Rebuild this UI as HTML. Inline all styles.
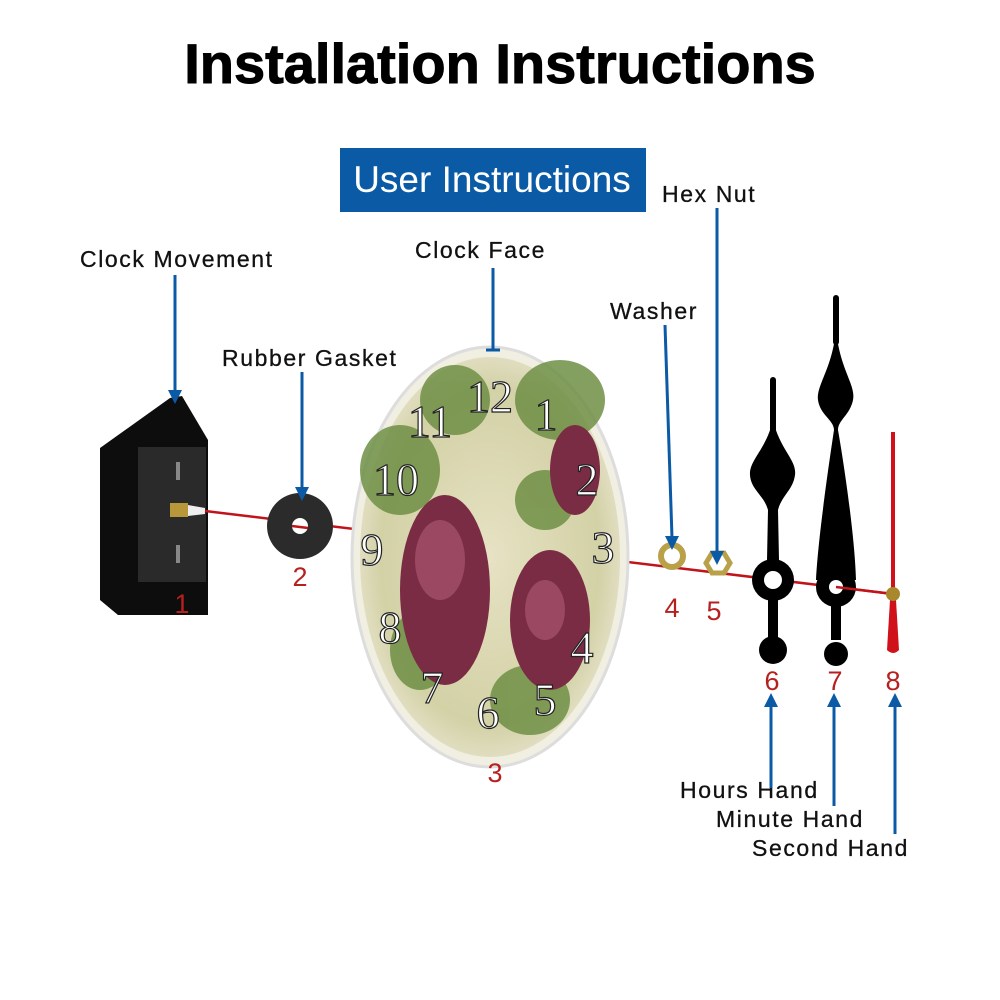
<!DOCTYPE html>
<html><head><style>
body{margin:0;background:#fff;}
svg{display:block}
text{font-family:"Liberation Sans",sans-serif;}
text.n{font-family:"Liberation Serif",serif;}
</style></head><body>
<svg width="1000" height="1000" viewBox="0 0 1000 1000">
<defs>
<radialGradient id="face" cx="50%" cy="50%" r="60%">
<stop offset="0" stop-color="#e6e2c4"/><stop offset="0.7" stop-color="#d3d1a6"/><stop offset="1" stop-color="#f0ede0"/>
</radialGradient>
</defs>
<text x="500" y="83" text-anchor="middle" font-size="56" font-weight="bold" fill="#000" stroke="#000" stroke-width="1">Installation Instructions</text>
<rect x="340" y="148" width="306" height="64" fill="#0b5aa6"/>
<text x="492" y="192" text-anchor="middle" font-size="37" fill="#fff">User Instructions</text>

<g font-size="23" fill="#111" letter-spacing="1.6" stroke="#111" stroke-width="0.3">
<text x="80" y="267">Clock Movement</text>
<text x="222" y="366">Rubber Gasket</text>
<text x="415" y="258">Clock Face</text>
<text x="610" y="319">Washer</text>
<text x="662" y="202">Hex Nut</text>
<text x="680" y="798">Hours Hand</text>
<text x="716" y="827">Minute Hand</text>
<text x="752" y="856">Second Hand</text>
</g>

<!-- clock movement -->
<polygon points="100,448 170,398 182,396 208,440 208,615 118,615 100,600" fill="#0d0d0d"/>
<rect x="138" y="447" width="68" height="135" fill="#2a2a2a"/>
<rect x="176" y="462" width="4" height="18" fill="#888"/>
<rect x="176" y="545" width="4" height="18" fill="#888"/>
<rect x="170" y="503" width="18" height="14" fill="#b8963a"/>
<polygon points="188,505 205,508 205,514 188,516" fill="#eee"/>

<line x1="205" y1="511" x2="893" y2="594" stroke="#c0141a" stroke-width="2.5"/>

<!-- gasket -->
<circle cx="300" cy="526" r="33" fill="#2b2b2b"/>
<circle cx="300" cy="526" r="8" fill="#fff"/>
<line x1="292" y1="526" x2="308" y2="528" stroke="#c0141a" stroke-width="2.5"/>

<!-- clock face -->
<ellipse cx="490" cy="557" rx="138" ry="210" fill="#f1eee2" stroke="#ddd" stroke-width="3"/>
<ellipse cx="490" cy="557" rx="130" ry="200" fill="url(#face)"/>
<g fill="#6f8f45" opacity="0.85">
<ellipse cx="400" cy="470" rx="40" ry="45"/><ellipse cx="560" cy="400" rx="45" ry="40"/>
<ellipse cx="455" cy="400" rx="35" ry="35"/><ellipse cx="530" cy="700" rx="40" ry="35"/>
<ellipse cx="420" cy="650" rx="30" ry="40"/><ellipse cx="545" cy="500" rx="30" ry="30"/>
</g>
<g fill="#7a2c45">
<ellipse cx="445" cy="590" rx="45" ry="95"/><ellipse cx="550" cy="620" rx="40" ry="70"/>
<ellipse cx="575" cy="470" rx="25" ry="45"/>
</g>
<g fill="#a4506a" opacity="0.8">
<ellipse cx="440" cy="560" rx="25" ry="40"/><ellipse cx="545" cy="610" rx="20" ry="30"/>
</g>
<g font-size="46" fill="#fff" stroke="#222" stroke-width="1.2" text-anchor="middle">
<text class="n" x="490" y="412">12</text>
<text class="n" x="430" y="437">11</text>
<text class="n" x="546" y="430">1</text>
<text class="n" x="396" y="495">10</text>
<text class="n" x="587" y="495">2</text>
<text class="n" x="372" y="565">9</text>
<text class="n" x="603" y="563">3</text>
<text class="n" x="390" y="643">8</text>
<text class="n" x="582" y="663">4</text>
<text class="n" x="432" y="703">7</text>
<text class="n" x="545" y="715">5</text>
<text class="n" x="488" y="728">6</text>
</g>

<!-- washer and nut -->
<circle cx="672" cy="556" r="11" fill="none" stroke="#b9a14a" stroke-width="6"/>
<polygon points="706,563 712,553 724,553 730,563 724,573 712,573" fill="none" stroke="#b9a14a" stroke-width="5"/>

<!-- hour hand -->
<g fill="#000">
<rect x="770" y="377" width="6" height="60" rx="3"/>
<path d="M773,420 C780,450 797,460 795,475 C793,490 782,495 778,510 L779,560 L767,560 L768,510 C764,495 751,490 750,475 C749,460 766,450 773,420Z"/>
<circle cx="773" cy="580" r="21"/>
<rect x="768" y="595" width="10" height="45"/>
<circle cx="773" cy="650" r="14"/>
</g>
<circle cx="773" cy="580" r="9" fill="#fff"/>
<!-- minute hand -->
<g fill="#000">
<rect x="833" y="295" width="6" height="50" rx="3"/>
<path d="M836,330 C840,370 856,385 853,400 C850,415 838,420 838,430 C845,470 855,540 856,580 L816,580 C818,540 828,470 834,430 C834,420 820,415 818,400 C816,385 832,370 836,330Z"/>
<circle cx="836" cy="587" r="20"/>
<rect x="831" y="600" width="10" height="40"/>
<circle cx="836" cy="654" r="12"/>
</g>
<circle cx="836" cy="587" r="7" fill="#fff"/>
<line x1="836" y1="587" x2="893" y2="594" stroke="#c0141a" stroke-width="2.5"/>
<!-- second hand -->
<rect x="891" y="432" width="4" height="160" fill="#d0101a"/>
<path d="M890,600 L896,600 L899,650 Q893,656 887,650Z" fill="#d0101a"/>
<circle cx="893" cy="594" r="7" fill="#a8882a"/>

<!-- blue arrows -->
<g stroke="#0b5aa6" stroke-width="3" fill="none">
<line x1="175" y1="275" x2="175" y2="392"/>
<line x1="302" y1="372" x2="302" y2="490"/>
<line x1="493" y1="268" x2="493" y2="350"/><line x1="486" y1="350" x2="500" y2="350"/>
<line x1="665" y1="325" x2="672" y2="538"/>
<line x1="717" y1="208" x2="717" y2="553"/>
<line x1="771" y1="788" x2="771" y2="705"/>
<line x1="834" y1="806" x2="834" y2="705"/>
<line x1="895" y1="834" x2="895" y2="705"/>
</g>
<g fill="#0b5aa6">
<polygon points="168,390 182,390 175,404"/>
<polygon points="295,487 309,487 302,501"/>
<polygon points="665,536 679,536 672,550"/>
<polygon points="710,551 724,551 717,565"/>
<polygon points="764,707 778,707 771,693"/>
<polygon points="827,707 841,707 834,693"/>
<polygon points="888,707 902,707 895,693"/>
</g>

<g font-size="27" fill="#b5211e" text-anchor="middle">
<text x="182" y="613">1</text>
<text x="300" y="586">2</text>
<text x="495" y="782">3</text>
<text x="672" y="617">4</text>
<text x="714" y="620">5</text>
<text x="772" y="690">6</text>
<text x="835" y="690">7</text>
<text x="893" y="690">8</text>
</g>
</svg>
</body></html>
